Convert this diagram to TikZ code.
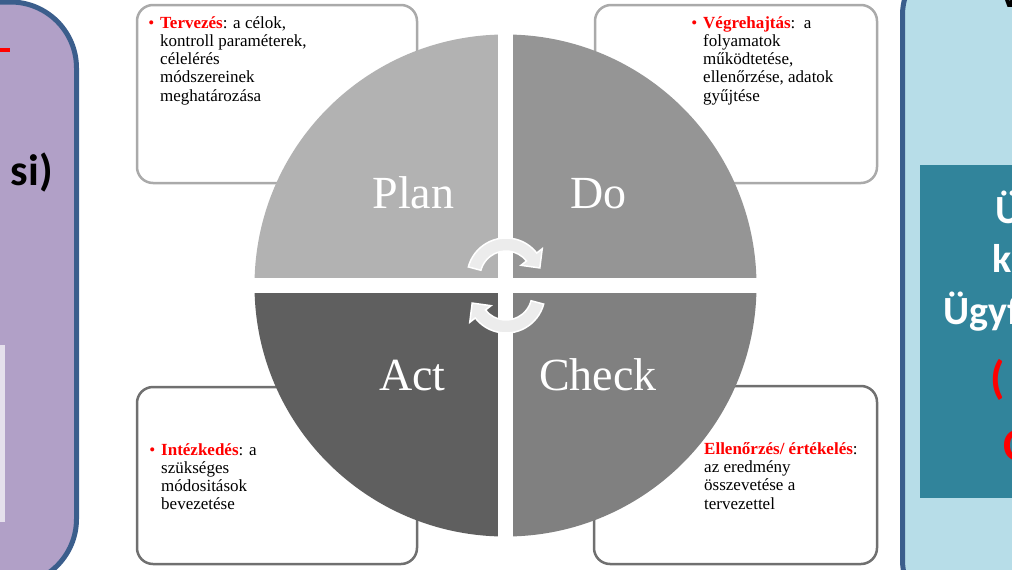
\documentclass[tikz,border=0pt]{standalone}
\usepackage{fontspec}
\setmainfont{Liberation Serif}
\newfontfamily\calibri{Carlito}
\usetikzlibrary{calc}
\definecolor{lilac}{HTML}{B1A0C7}
\definecolor{lilaclight}{HTML}{E5E0EC}
\definecolor{panelblue}{HTML}{3B5E8C}
\definecolor{iceblue}{HTML}{B7DDE8}
\definecolor{tealbox}{HTML}{31849B}
\definecolor{boxlight}{HTML}{AAAAAA}
\definecolor{boxdark}{HTML}{707070}
\definecolor{plangray}{HTML}{B2B2B2}
\definecolor{dogray}{HTML}{959595}
\definecolor{actgray}{HTML}{5F5F5F}
\definecolor{checkgray}{HTML}{808080}
\newcommand{\pdkey}[1]{\textcolor{red}{\textbf{#1}}}
\newcommand{\pdbul}{\llap{\textcolor{red}{•}\hspace{6pt}}}
\begin{document}
\begin{tikzpicture}[x=1pt, y=-1pt,
  notebox/.style={rounded corners=16pt, fill=white, line width=2.5pt},
  notetxt/.style={anchor=north west, align=left, inner sep=0pt, font=\fontsize{17}{18.3}\selectfont},
  pdca/.style={anchor=base, inner sep=0pt, text=white, font=\fontsize{46}{50}\selectfont},
  cyc/.style={fill=gray!15, draw=white, line width=1.5pt},
  paneltxt/.style={inner sep=0pt, font=\calibri\bfseries\fontsize{40}{48}\selectfont},
  tealtxt/.style={paneltxt, anchor=base west, text=white},
  redtxt/.style={tealtxt, text=red, font=\calibri\bfseries\fontsize{46}{52}\selectfont}]
  \clip (0,0) rectangle (1012,570);
  % side panels
  \draw[line width=5pt, draw=panelblue, fill=lilac, rounded corners=66pt] (-300,2) rectangle (76.5,585);
  \fill[red] (0,48) rectangle (10,52);
  \fill[lilaclight] (-1,345) rectangle (5,522);
  \node[paneltxt, anchor=base east, font=\calibri\bfseries\fontsize{44}{50}\selectfont] (si) at (53,185) {si)};
  \draw[line width=5pt, draw=panelblue, fill=iceblue, rounded corners=60pt] (902.5,-45) rectangle (1100,620);
  \node[paneltxt, anchor=base west] (vtop) at (998,8) {V};
  \fill[tealbox] (919.5,165) rectangle (1020,498);
  \node[tealtxt] (t1) at (995,223) {Ü};
  \node[tealtxt] (t2) at (992,272) {k};
  \node[tealtxt] (t3) at (943,324) {Ügyf};
  \node[redtxt] (t4) at (990,393) {(};
  \node[redtxt] (t5) at (1003,460) {C};
  % note boxes
  \draw[notebox, draw=boxlight] (137,5) rectangle (417,183);
  \draw[notebox, draw=boxlight] (595,5) rectangle (877,183);
  \draw[notebox, draw=boxdark] (137,387) rectangle (417,564);
  \draw[notebox, draw=boxdark] (594,386) rectangle (877,564);
  \node[notetxt] (nplan) at (160,16) {\pdbul\pdkey{Tervezés}: a célok,\\kontroll paraméterek,\\célelérés\\módszereinek\\meghatározása};
  \node[notetxt] (ndo) at (703,16) {\pdbul\pdkey{Végrehajtás}:\ \ a\\folyamatok\\működtetése,\\ellenőrzése, adatok\\gyűjtése};
  \node[notetxt] (nact) at (161,443) {\pdbul\pdkey{Intézkedés}: a\\szükséges\\módositások\\bevezetése};
  \node[notetxt] (ncheck) at (704,442) {\pdkey{Ellenőrzés/ értékelés}:\\az eredmény\\összevetése a\\tervezettel};
  % PDCA circle
  \coordinate (c) at (505.5,285.5);
  \begin{scope}
    \clip (c) circle[radius=251];
    \fill[plangray] (250,30) rectangle (498,278);
    \fill[dogray] (513,30) rectangle (760,278);
    \fill[actgray] (250,293) rectangle (498,540);
    \fill[checkgray] (513,293) rectangle (760,540);
  \end{scope}
  \coordinate (ct) at (506,277);
  \coordinate (cb) at (506,294);
  \filldraw[cyc] ($(ct)+(195:39)$) arc[start angle=195, end angle=322, radius=39] -- ($(ct)+(322:46)$) -- ($(ct)+(345:35)$) -- ($(ct)+(322:19)$) -- ($(ct)+(322:26)$) arc[start angle=322, end angle=195, radius=26] -- cycle;
  \filldraw[cyc] ($(cb)+(15:39)$) arc[start angle=15, end angle=142, radius=39] -- ($(cb)+(142:46)$) -- ($(cb)+(165:35)$) -- ($(cb)+(142:19)$) -- ($(cb)+(142:26)$) arc[start angle=142, end angle=15, radius=26] -- cycle;
  \node[pdca] (plan) at (413.5,208) {Plan};
  \node[pdca] (do) at (598.5,208) {Do};
  \node[pdca] (act) at (412.5,390) {Act};
  \node[pdca] (check) at (598,390) {Check};
\end{tikzpicture}
\end{document}
